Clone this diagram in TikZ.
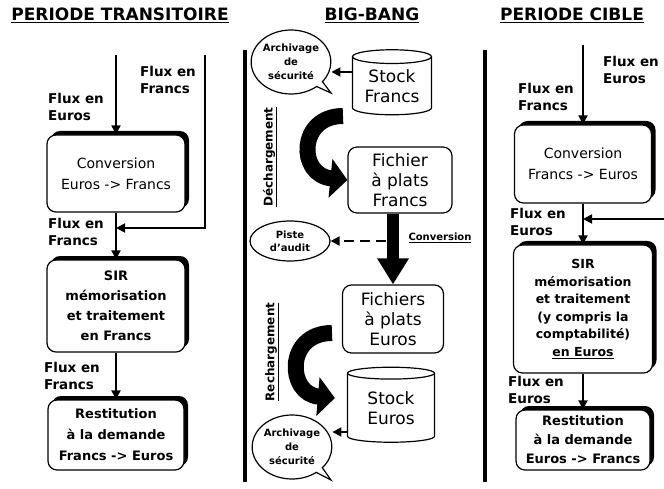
\documentclass[tikz,border=0pt]{standalone}
\usepackage{fontspec}
\setmainfont{DejaVu Sans}
\usetikzlibrary{arrows.meta, positioning, shapes.geometric, shapes.callouts, shadows}

\begin{document}
\begin{tikzpicture}[x=1pt, y=1pt, >={Triangle[width=9pt,length=9pt]},
  flux/.style={line width=1.8pt, ->},
  lbl/.style={font=\fontsize{13.5}{17}\selectfont\bfseries, align=left},
  title/.style={font=\fontsize{17}{20}\selectfont\bfseries},
  box/.style={draw, line width=1.2pt, rounded corners=9pt, fill=white, align=center,
    inner sep=0pt, general shadow={fill=black, shadow xshift=4pt, shadow yshift=4pt}},
  flat/.style={draw, line width=1.2pt, rounded corners=9pt, align=center, inner sep=0pt,
    font=\fontsize{17}{20}\selectfont},
  cyl/.style={cylinder, shape border rotate=90, aspect=0.25, draw, line width=1.2pt,
    align=center, inner sep=0pt, font=\fontsize{17}{20}\selectfont},
  bubble/.style={ellipse callout, draw, line width=1.2pt, align=center, inner sep=0pt,
    minimum width=78pt, minimum height=64pt, callout pointer arc=12,
    font=\fontsize{10}{14}\selectfont\bfseries},
  swoosh/.style={line width=16pt, -{Triangle[width=38pt,length=17pt]}},
  vlabel/.style={rotate=90, font=\fontsize{12}{14}\selectfont\bfseries}]

  \useasboundingbox (0,0) rectangle (664,-489);

  % titres
  \node[title] (t1) at (120,-15) {\underline{PERIODE TRANSITOIRE}};
  \node[title] (t2) at (372,-15) {\underline{BIG-BANG}};
  \node[title] (t3) at (572,-15) {\underline{PERIODE CIBLE}};

  \foreach \x in {245, 485} {
    \draw[line width=3.5pt] (\x,-50) -- (\x,-482);
  }

  % periode transitoire
  \node[box, minimum width=138pt, minimum height=77pt, font=\fontsize{14}{21}\selectfont]
    (conv1) at (116,-173.5) {Conversion\\Euros -> Francs};
  \node[box, minimum width=138pt, minimum height=92pt, font=\fontsize{13}{20}\selectfont\bfseries]
    (sir1) at (116,-306) {SIR\\mémorisation\\et traitement\\en Francs};
  \node[box, minimum width=136pt, minimum height=70pt, font=\fontsize{13}{21}\selectfont\bfseries]
    (rest1) at (116,-435) {Restitution\\à la demande\\Francs -> Euros};

  \coordinate (in1) at (116,-55);
  \coordinate (fr1) at (205,-55);
  \coordinate (j1) at (116,-228);
  \draw[flux] (in1) -- (conv1);
  \draw[flux] (conv1) -- (sir1);
  \draw[flux] (sir1) -- (rest1);
  \draw[flux] (fr1) |- (j1);

  \node[lbl] (l1a) at (76,-107) {Flux en\\Euros};
  \node[lbl] (l1b) at (168,-80) {Flux en\\Francs};
  \node[lbl] (l1c) at (76,-232) {Flux en\\Francs};
  \node[lbl] (l1d) at (72,-376) {Flux en\\Francs};

  % big-bang
  \node[bubble, callout absolute pointer={(331,-93)}] (arch1) at (291,-62) {Archivage\\de\\sécurité};
  \node[cyl, minimum width=79pt, minimum height=65pt] (stockF) at (392,-86) {Stock\\Francs};
  \node[flat, minimum width=104pt, minimum height=66pt] (ficF) at (400,-180) {Fichier\\à plats\\Francs};
  \node[draw, ellipse, line width=1.2pt, align=center, inner sep=0pt, minimum width=80pt,
    minimum height=40pt, font=\fontsize{10}{13}\selectfont\bfseries] (piste) at (290,-241) {Piste\\d'audit};
  \node[flat, minimum width=101pt, minimum height=68pt] (ficE) at (393,-319) {Fichiers\\à plats\\Euros};
  \node[cyl, minimum width=87pt, minimum height=75pt] (stockE) at (391,-408) {Stock\\Euros};
  \node[bubble, callout absolute pointer={(331,-480)}] (arch2) at (292,-447) {Archivage\\de\\sécurité};

  \coordinate (sf) at ([yshift=14pt]stockF.west);
  \draw[flux] (sf) -- (sf -| arch1.east);
  \coordinate (se) at ([yshift=-24pt]stockE.west);
  \draw[flux] (se) -- (se -| arch2.east);

  \coordinate (dch1) at (343,-116);
  \draw[swoosh] (dch1) .. controls +(-45,0) and +(-50,5) .. (ficF.west);
  \coordinate (rch1) at (332,-333);
  \draw[swoosh] (rch1) .. controls +(-47,0) and +(-48,4) .. ([xshift=-12pt,yshift=10pt]stockE.west);

  \draw[line width=12pt, -{Triangle[width=30pt,length=26pt]}] (ficF.south -| ficE.north) -- (ficE.north);
  \draw[line width=2pt, dash pattern=on 10pt off 6pt, ->] (piste.east -| ficE.north) ++(-7,0) -- (piste.east);
  \node[font=\fontsize{10}{12}\selectfont\bfseries] (convl) at (440,-238) {\underline{Conversion}};

  \node[vlabel] (dech) at (270,-157) {\underline{Déchargement}};
  \node[vlabel] (rech) at (272,-352) {\underline{Rechargement}};

  % periode cible
  \node[box, minimum width=137pt, minimum height=78pt, font=\fontsize{14}{21}\selectfont]
    (conv3) at (583,-164) {Conversion\\Francs -> Euros};
  \node[box, minimum width=139pt, minimum height=128pt, font=\fontsize{12.5}{17.5}\selectfont\bfseries]
    (sir3) at (583,-309) {SIR\\mémorisation\\et traitement\\(y compris la\\comptabilité)\\\underline{en Euros}};
  \node[box, minimum width=134pt, minimum height=60pt, font=\fontsize{13}{19}\selectfont\bfseries]
    (rest3) at (583,-440) {Restitution\\à la demande\\Euros -> Francs};

  \coordinate (in3) at (583,-45);
  \coordinate (fe3) at (664,-219);
  \draw[flux] (in3) -- (conv3);
  \draw[flux] (conv3) -- (sir3);
  \draw[flux] (sir3) -- (rest3);
  \draw[flux] (fe3) -- (fe3 -| conv3.south);

  \node[lbl] (l3a) at (631,-70) {Flux en\\Euros};
  \node[lbl] (l3b) at (546,-97) {Flux en\\Francs};
  \node[lbl] (l3c) at (538,-222) {Flux en\\Euros};
  \node[lbl] (l3d) at (536,-390) {Flux en\\Euros};

\end{tikzpicture}
\end{document}
